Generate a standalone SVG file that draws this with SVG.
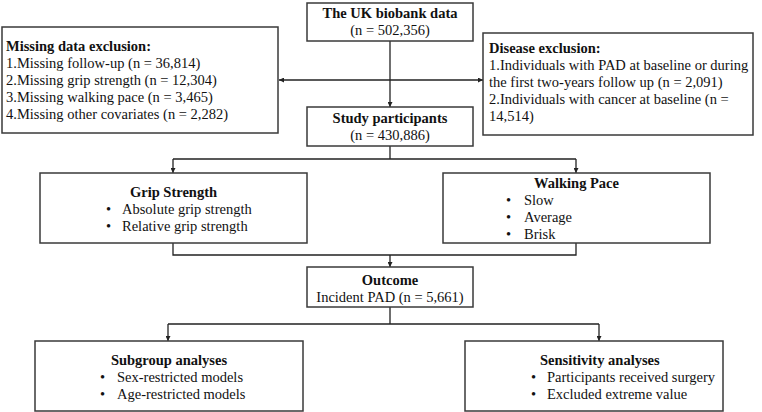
<svg xmlns="http://www.w3.org/2000/svg" width="762" height="412" viewBox="0 0 762 412">
<defs>
<marker id="ah" viewBox="0 0 10 10" refX="10" refY="5" markerWidth="5" markerHeight="5" orient="auto" markerUnits="userSpaceOnUse">
<path d="M0,0 L10,5 L0,10 z" fill="#222"/>
</marker>
</defs>
<style>
.box{fill:#fff;stroke:#3a3a3a;stroke-width:1.5}
.ln{fill:none;stroke:#222;stroke-width:1.3}
text{font-family:"Liberation Serif","Times New Roman",serif;font-size:14.5px;fill:#111}
.b{font-weight:bold}
.c{text-anchor:middle}
</style>
<rect width="762" height="412" fill="#fff"/>
<g id="connectors">
<path class="ln" d="M390,41 V107" marker-end="url(#ah)"/>
<path class="ln" d="M390,80 H279" marker-end="url(#ah)"/>
<path class="ln" d="M390,80 H483" marker-end="url(#ah)"/>
<path class="ln" d="M390,146 V159 M173,159 H576"/>
<path class="ln" d="M173,159 V173" marker-end="url(#ah)"/>
<path class="ln" d="M576,159 V173" marker-end="url(#ah)"/>
<path class="ln" d="M173,243 V255 H576 V243"/>
<path class="ln" d="M390,255 V267" marker-end="url(#ah)"/>
<path class="ln" d="M390,307 V324 M168,324 H599"/>
<path class="ln" d="M168,324 V341" marker-end="url(#ah)"/>
<path class="ln" d="M599,324 V341" marker-end="url(#ah)"/>
</g>
<g id="ukbiobank">
<rect class="box" x="307" y="3" width="166" height="38"/>
<text class="b c" x="390" y="18">The UK biobank data</text>
<text class="c" x="390" y="35">(n = 502,356)</text>
</g>
<g id="missing">
<rect class="box" x="2" y="27" width="276" height="106"/>
<text class="b" x="6" y="51">Missing data exclusion:</text>
<text x="6" y="68">1.Missing follow-up (n = 36,814)</text>
<text x="6" y="85">2.Missing grip strength (n = 12,304)</text>
<text x="6" y="102">3.Missing walking pace (n = 3,465)</text>
<text x="6" y="119">4.Missing other covariates (n = 2,282)</text>
</g>
<g id="disease">
<rect class="box" x="483" y="33" width="270" height="102"/>
<text class="b" x="489" y="53">Disease exclusion:</text>
<text x="489" y="70">1.Individuals with PAD at baseline or during</text>
<text x="489" y="87">the first two-years follow up (n = 2,091)</text>
<text x="489" y="104">2.Individuals with cancer at baseline (n =</text>
<text x="489" y="121">14,514)</text>
</g>
<g id="study">
<rect class="box" x="307" y="107" width="166" height="39"/>
<text class="b c" x="390" y="123">Study participants</text>
<text class="c" x="390" y="140">(n = 430,886)</text>
</g>
<g id="grip">
<rect class="box" x="40" y="173" width="267" height="70"/>
<text class="b c" x="173.5" y="197">Grip Strength</text>
<text x="106" y="214">•</text><text x="122" y="214">Absolute grip strength</text>
<text x="106" y="231">•</text><text x="122" y="231">Relative grip strength</text>
</g>
<g id="walking">
<rect class="box" x="443" y="173" width="267" height="70"/>
<text class="b c" x="576.5" y="188">Walking Pace</text>
<text x="506" y="205">•</text><text x="524" y="205">Slow</text>
<text x="506" y="222">•</text><text x="524" y="222">Average</text>
<text x="506" y="239">•</text><text x="524" y="239">Brisk</text>
</g>
<g id="outcome">
<rect class="box" x="307" y="267" width="166" height="40"/>
<text class="b c" x="390" y="285">Outcome</text>
<text class="c" x="390" y="302">Incident PAD (n = 5,661)</text>
</g>
<g id="subgroup">
<rect class="box" x="35" y="341" width="268" height="70"/>
<text class="b c" x="169" y="365">Subgroup analyses</text>
<text x="100" y="382">•</text><text x="117" y="382">Sex-restricted models</text>
<text x="100" y="399">•</text><text x="117" y="399">Age-restricted models</text>
</g>
<g id="sensitivity">
<rect class="box" x="465" y="341" width="258" height="70"/>
<text class="b" x="540" y="365">Sensitivity analyses</text>
<text x="531" y="382">•</text><text x="547" y="382">Participants received surgery</text>
<text x="531" y="399">•</text><text x="547" y="399">Excluded extreme value</text>
</g>
</svg>
